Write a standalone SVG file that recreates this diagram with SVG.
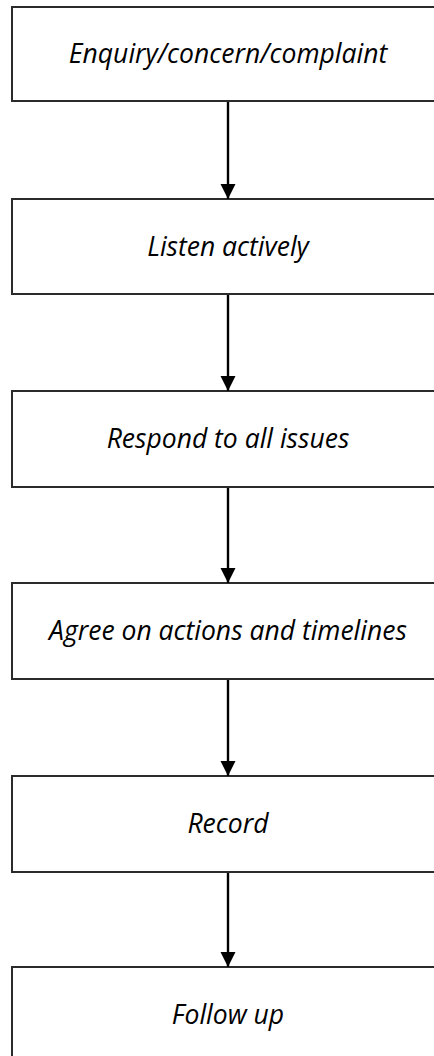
<svg xmlns="http://www.w3.org/2000/svg" width="434" height="1056" viewBox="0 0 434 1056">
  <style>
    .box { fill: #ffffff; stroke: #2b2b2b; stroke-width: 2; }
    .lbl { font-family: "Open Sans", "Liberation Sans", sans-serif; font-style: italic; font-size: 26.5px; fill: #000000; text-anchor: middle; }
    .conn { stroke: #000000; stroke-width: 2.4; fill: none; }
  </style>
  <defs>
    <marker id="arrow" markerUnits="userSpaceOnUse" markerWidth="16" markerHeight="16" viewBox="0 0 16 16" refX="15" refY="8" orient="auto">
      <path d="M0,0.5 L15,8 L0,15.5 Z" fill="#000000"/>
    </marker>
  </defs>
  <rect width="434" height="1056" fill="#ffffff"/>
  <g id="node1">
    <rect class="box" x="12" y="7" width="432" height="94"/>
    <text class="lbl" x="228" y="63">Enquiry/concern/complaint</text>
  </g>
  <g id="node2">
    <rect class="box" x="12" y="199" width="432" height="95"/>
    <text class="lbl" x="228" y="256">Listen actively</text>
  </g>
  <g id="node3">
    <rect class="box" x="12" y="391" width="432" height="96"/>
    <text class="lbl" x="228" y="448">Respond to all issues</text>
  </g>
  <g id="node4">
    <rect class="box" x="12" y="583" width="432" height="96"/>
    <text class="lbl" x="228" y="640">Agree on actions and timelines</text>
  </g>
  <g id="node5">
    <rect class="box" x="12" y="776" width="432" height="96"/>
    <text class="lbl" x="228" y="833">Record</text>
  </g>
  <g id="node6">
    <rect class="box" x="12" y="967" width="432" height="96"/>
    <text class="lbl" x="228" y="1024">Follow up</text>
  </g>
  <g id="connectors">
    <line class="conn" x1="228" y1="102" x2="228" y2="199" marker-end="url(#arrow)"/>
    <line class="conn" x1="228" y1="295" x2="228" y2="391" marker-end="url(#arrow)"/>
    <line class="conn" x1="228" y1="488" x2="228" y2="583" marker-end="url(#arrow)"/>
    <line class="conn" x1="228" y1="680" x2="228" y2="776" marker-end="url(#arrow)"/>
    <line class="conn" x1="228" y1="873" x2="228" y2="967" marker-end="url(#arrow)"/>
  </g>
</svg>
